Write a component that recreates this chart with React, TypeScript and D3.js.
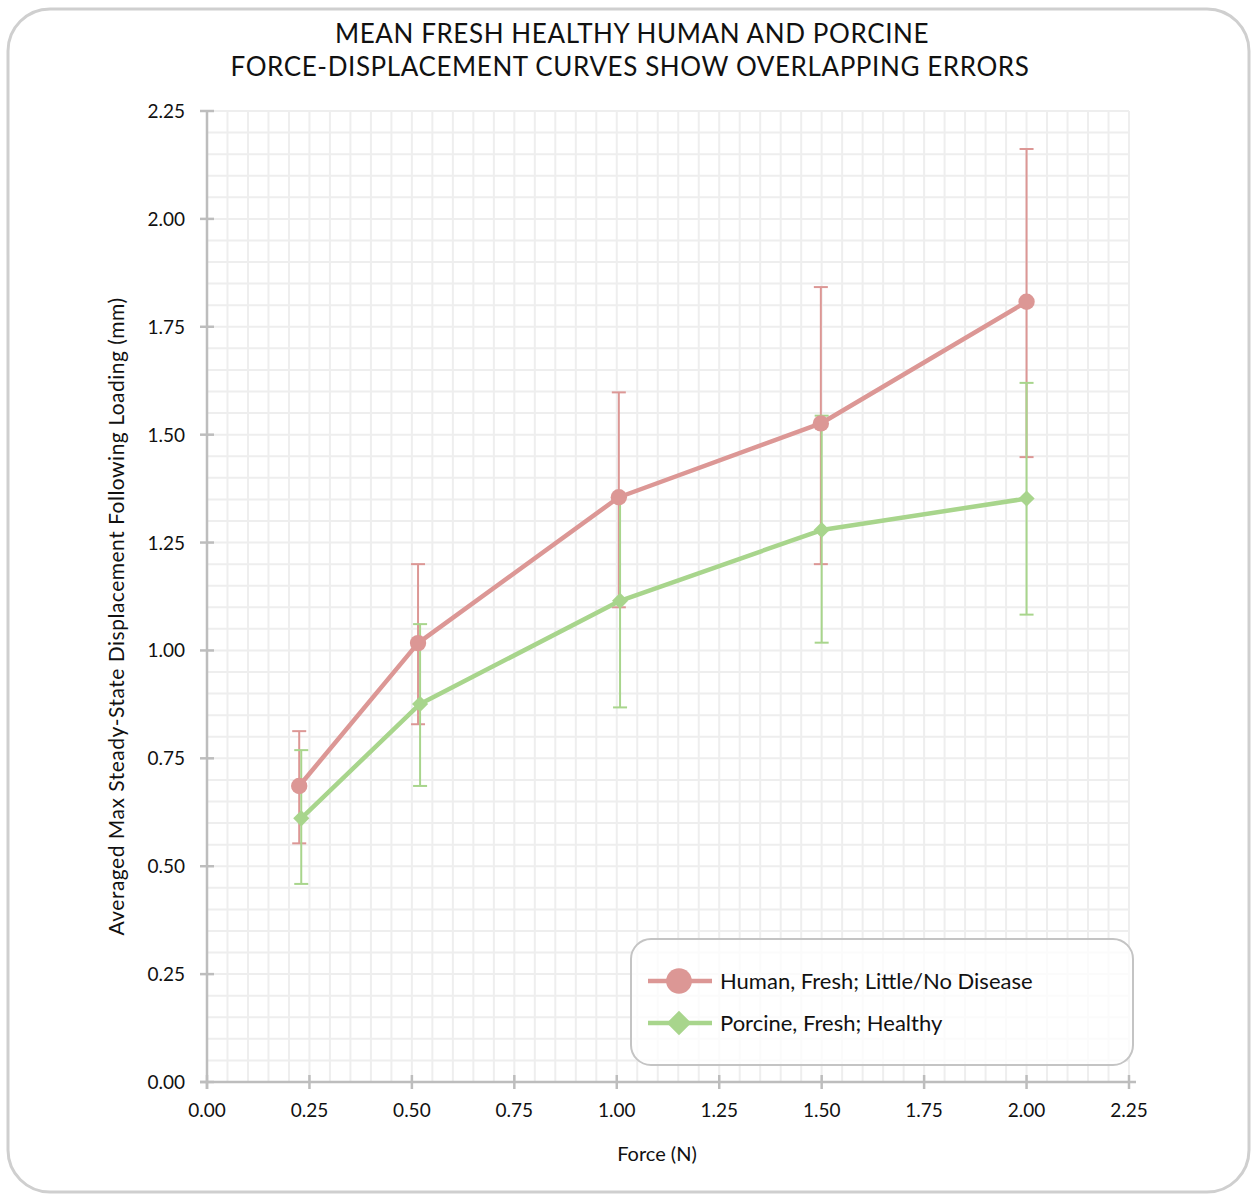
import React, { useRef, useEffect } from 'react';
import * as d3 from 'd3';

// force (N) at which each series was measured
const humanForce = [0.225, 0.515, 1.005, 1.498, 2.0];
const porcineForce = [0.23, 0.52, 1.008, 1.5, 2.0];

// mean displacement (mm) and error bar limits
const humanMean = [0.686, 1.017, 1.355, 1.526, 1.808];
const humanUpper = [0.813, 1.2, 1.598, 1.842, 2.162];
const humanLower = [0.553, 0.829, 1.1, 1.2, 1.448];

const porcineMean = [0.611, 0.876, 1.115, 1.279, 1.352];
const porcineUpper = [0.769, 1.061, 1.36, 1.544, 1.62];
const porcineLower = [0.459, 0.686, 0.868, 1.018, 1.083];

const tickValues = [0, 0.25, 0.5, 0.75, 1.0, 1.25, 1.5, 1.75, 2.0, 2.25];

const seriesNames = ['Human, Fresh; Little/No Disease', 'Porcine, Fresh; Healthy'];
const seriesColors = ['#dc9795', '#a8d58c'];

const FONT = 'Lato, "Open Sans", sans-serif';

interface Pt { x: number; y: number; lo: number; hi: number }

function App(): React.ReactElement {
  const svgRef = useRef<SVGSVGElement | null>(null);

  useEffect(() => {
    const svg = d3.select(svgRef.current);
    svg.selectAll('*').remove();

    const x = d3.scaleLinear().domain([0, 2.25]).range([207, 1129]);
    const y = d3.scaleLinear().domain([0, 2.25]).range([1082, 111]);

    // outer frame
    svg.append('rect')
      .attr('x', 8).attr('y', 9).attr('width', 1241).attr('height', 1183)
      .attr('rx', 42)
      .attr('fill', 'white').attr('stroke', '#cfcfcf').attr('stroke-width', 3);

    // title
    const title = svg.append('text')
      .attr('text-anchor', 'middle')
      .attr('font-family', FONT)
      .attr('font-size', 26)
      .attr('letter-spacing', 0.6)
      .attr('fill', '#111');
    title.append('tspan').attr('x', 632).attr('y', 43).text('MEAN  FRESH HEALTHY HUMAN AND PORCINE');
    title.append('tspan').attr('x', 630).attr('y', 76).text('FORCE-DISPLACEMENT  CURVES SHOW OVERLAPPING ERRORS');

    // grid every 0.05
    const gridVals = d3.range(1, 46).map((i) => i * 0.05);
    const grid = svg.append('g').attr('stroke', '#eeeeee').attr('stroke-width', 2);
    gridVals.forEach((v) => {
      grid.append('line').attr('x1', x(v)).attr('x2', x(v)).attr('y1', y(0)).attr('y2', y(2.25));
      grid.append('line').attr('x1', x(0)).attr('x2', x(2.25)).attr('y1', y(v)).attr('y2', y(v));
    });

    // axes
    const axisColor = '#bdbdbd';
    const axes = svg.append('g').attr('stroke', axisColor).attr('stroke-width', 2.5);
    axes.append('line').attr('x1', x(0) - 7).attr('x2', x(2.25) + 7).attr('y1', y(0)).attr('y2', y(0));
    axes.append('line').attr('x1', x(0)).attr('x2', x(0)).attr('y1', y(0) + 7).attr('y2', y(2.25));
    tickValues.forEach((v) => {
      axes.append('line').attr('x1', x(v)).attr('x2', x(v)).attr('y1', y(0) - 7).attr('y2', y(0) + 7);
      axes.append('line').attr('x1', x(0) - 7).attr('x2', x(0) + 7).attr('y1', y(v)).attr('y2', y(v));
    });

    const labels = svg.append('g').attr('font-family', FONT).attr('font-size', 19).attr('fill', '#111');
    tickValues.forEach((v) => {
      labels.append('text').attr('x', x(v)).attr('y', y(0) + 35)
        .attr('text-anchor', 'middle').text(d3.format('.2f')(v));
      labels.append('text').attr('x', x(0) - 22).attr('y', y(v) + 7)
        .attr('text-anchor', 'end').text(d3.format('.2f')(v));
    });

    svg.append('text')
      .attr('x', 657).attr('y', 1161)
      .attr('text-anchor', 'middle')
      .attr('font-family', FONT).attr('font-size', 20).attr('fill', '#111')
      .text('Force (N)');
    svg.append('text')
      .attr('transform', `translate(124, ${(y(0) + y(2.25)) / 2 + 20}) rotate(-90)`)
      .attr('text-anchor', 'middle')
      .attr('font-family', FONT).attr('font-size', 21).attr('letter-spacing', 0.5).attr('fill', '#111')
      .text('Averaged Max Steady-State  Displacement Following Loading (mm)');

    const human: Pt[] = humanForce.map((f, i) => ({ x: f, y: humanMean[i], lo: humanLower[i], hi: humanUpper[i] }));
    const porcine: Pt[] = porcineForce.map((f, i) => ({ x: f, y: porcineMean[i], lo: porcineLower[i], hi: porcineUpper[i] }));
    const series = [human, porcine];

    const line = d3.line<Pt>().x((d) => x(d.x)).y((d) => y(d.y));
    const circle = d3.symbol().type(d3.symbolCircle).size(210);
    const diamond = d3.symbol().type(d3.symbolSquare).size(130);

    // error bars first
    series.forEach((s, si) => {
      const g = svg.append('g').attr('stroke', seriesColors[si]).attr('stroke-width', 2);
      s.forEach((d) => {
        g.append('line').attr('x1', x(d.x)).attr('x2', x(d.x)).attr('y1', y(d.lo)).attr('y2', y(d.hi));
        [d.lo, d.hi].forEach((v) => {
          g.append('line').attr('x1', x(d.x) - 7).attr('x2', x(d.x) + 7).attr('y1', y(v)).attr('y2', y(v));
        });
      });
    });

    series.forEach((s, si) => {
      svg.append('path')
        .attr('d', line(s))
        .attr('fill', 'none')
        .attr('stroke', seriesColors[si])
        .attr('stroke-width', 4.5)
        .attr('stroke-linejoin', 'round');
      svg.append('g').selectAll('path')
        .data(s)
        .enter()
        .append('path')
        .attr('d', si === 0 ? circle : diamond)
        .attr('transform', (d) => `translate(${x(d.x)}, ${y(d.y)})${si === 1 ? ' rotate(45)' : ''}`)
        .attr('fill', seriesColors[si]);
    });

    // legend
    const lg = svg.append('g');
    lg.append('rect')
      .attr('x', 631).attr('y', 939).attr('width', 502).attr('height', 126)
      .attr('rx', 20)
      .attr('fill', 'white').attr('fill-opacity', 0.75)
      .attr('stroke', '#c4c4c4').attr('stroke-width', 2);
    seriesNames.forEach((name, i) => {
      const ly = 981 + i * 42;
      lg.append('line').attr('x1', 648).attr('x2', 712).attr('y1', ly).attr('y2', ly)
        .attr('stroke', seriesColors[i]).attr('stroke-width', 4.5);
      lg.append('path')
        .attr('d', i === 0 ? d3.symbol().type(d3.symbolCircle).size(520)() : d3.symbol().type(d3.symbolSquare).size(300)())
        .attr('transform', `translate(679, ${ly})${i === 1 ? ' rotate(45)' : ''}`)
        .attr('fill', seriesColors[i]);
      lg.append('text')
        .attr('x', 720).attr('y', ly + 8)
        .attr('font-family', FONT).attr('font-size', 22).attr('fill', '#111')
        .text(name);
    });
  }, []);

  return (
    <svg
      ref={svgRef}
      width={1252}
      height={1195}
      style={{ position: 'absolute', left: 0, top: 0 }}
    />
  );
}

export default App;
